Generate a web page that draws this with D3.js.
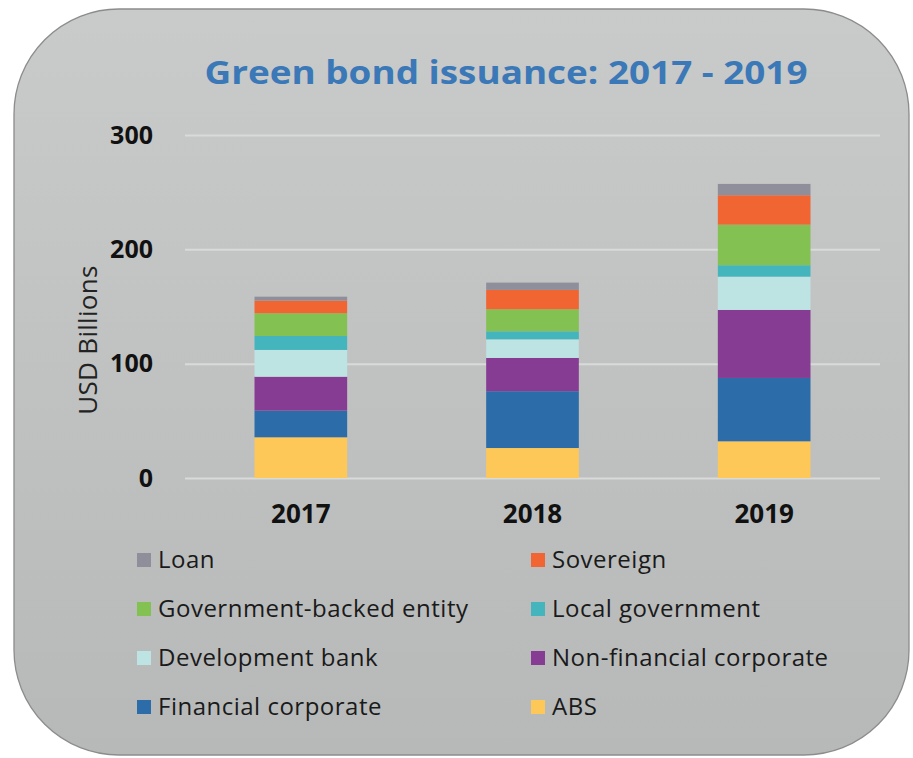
<!DOCTYPE html>
<html>
<head>
<meta charset="utf-8">
<script src="https://cdn.jsdelivr.net/npm/d3@7"></script>
<style>
  body { margin: 0; background: #ffffff; }
  svg { display: block; }
</style>
</head>
<body>
<div id="chart"></div>
<script>
// data (USD billions)
var years = ["2017", "2018", "2019"];
var abs = [35.6, 26.2, 32.1];
var financialCorporate = [23.3, 49.7, 55.4];
var nonFinancialCorporate = [29.7, 29.1, 59.5];
var developmentBank = [23.4, 16.3, 29.1];
var localGovernment = [12.2, 7.0, 10.0];
var governmentBacked = [19.9, 19.3, 35.5];
var sovereign = [11.0, 16.9, 25.7];
var loan = [3.5, 6.4, 9.9];
var yTicks = [0, 100, 200, 300];

var seriesNames = ["ABS", "Financial corporate", "Non-financial corporate", "Development bank",
  "Local government", "Government-backed entity", "Sovereign", "Loan"];
var seriesValues = [abs, financialCorporate, nonFinancialCorporate, developmentBank,
  localGovernment, governmentBacked, sovereign, loan];
var seriesColors = ["#fec858", "#2c6ca8", "#873c94", "#bde3e3",
  "#44b5bd", "#82c152", "#f06531", "#8e8f9a"];
// legend goes top to bottom, two per row
var legendOrder = ["Loan", "Sovereign", "Government-backed entity", "Local government",
  "Development bank", "Non-financial corporate", "Financial corporate", "ABS"];

var width = 913, height = 758;
var margin = { top: 135, right: 33, bottom: 280, left: 185 };

var svg = d3.select("#chart").append("svg")
    .attr("width", width)
    .attr("height", height);

var defs = svg.append("defs");
var grad = defs.append("linearGradient")
    .attr("id", "bg")
    .attr("x1", 0).attr("y1", 0).attr("x2", 0).attr("y2", 1);
grad.append("stop").attr("offset", "0%").attr("stop-color", "#c9caca");
grad.append("stop").attr("offset", "100%").attr("stop-color", "#b7b9b9");

// rounded panel behind everything
svg.append("rect")
    .attr("x", 14).attr("y", 9)
    .attr("width", 895).attr("height", 746)
    .attr("rx", 105).attr("ry", 105)
    .attr("fill", "url(#bg)")
    .attr("stroke", "#8c8c8c")
    .attr("stroke-width", 1.3);

svg.append("text")
    .attr("x", 506)
    .attr("y", 84)
    .attr("text-anchor", "middle")
    .attr("font-family", "'Open Sans', sans-serif")
    .attr("font-weight", "bold")
    .attr("font-size", 32)
    .attr("textLength", 603)
    .attr("lengthAdjust", "spacingAndGlyphs")
    .attr("fill", "#3a78b7")
    .text("Green bond issuance: 2017 - 2019");

var plotW = width - margin.left - margin.right,
    plotH = height - margin.top - margin.bottom;

var g = svg.append("g")
    .attr("transform", "translate(" + margin.left + "," + margin.top + ")");

var x = d3.scaleBand().domain(years).range([0, plotW]).paddingInner(0.6).paddingOuter(0.3);
var y = d3.scaleLinear().domain([0, 300]).range([plotH, 0]);

// table for the stack
var table = years.map(function (yr, i) {
    var row = { year: yr };
    seriesNames.forEach(function (name, s) { row[name] = seriesValues[s][i]; });
    return row;
});
var stacked = d3.stack().keys(seriesNames)(table);

// gridlines
g.append("g")
    .call(d3.axisLeft(y).tickValues(yTicks).tickSize(-plotW).tickFormat(""))
    .call(function (a) {
        a.select(".domain").remove();
        a.selectAll(".tick line").attr("stroke", "#d9dada").attr("stroke-width", 2);
    });

g.selectAll(".series")
    .data(stacked)
    .enter().append("g")
    .attr("class", "series")
    .attr("fill", function (d, i) { return seriesColors[i]; })
    .selectAll("rect")
    .data(function (d) { return d; })
    .enter().append("rect")
    .attr("x", function (d) { return x(d.data.year); })
    .attr("width", x.bandwidth())
    .attr("y", function (d) { return y(d[1]); })
    .attr("height", function (d) { return y(d[0]) - y(d[1]); });

// y tick labels
g.append("g")
    .attr("transform", "translate(-32,0)")
    .call(d3.axisLeft(y).tickValues(yTicks).tickSize(0).tickPadding(0))
    .call(function (a) {
        a.select(".domain").remove();
        a.selectAll("text")
            .attr("font-family", "'Open Sans', sans-serif")
            .attr("font-weight", "bold")
            .attr("font-size", 25)
            .attr("fill", "#111");
    });

// x tick labels
g.append("g")
    .attr("transform", "translate(0," + plotH + ")")
    .call(d3.axisBottom(x).tickSize(0).tickPadding(27))
    .call(function (a) {
        a.select(".domain").remove();
        a.selectAll("text")
            .attr("font-family", "'Open Sans', sans-serif")
            .attr("font-weight", "bold")
            .attr("font-size", 26)
            .attr("fill", "#111");
    });

svg.append("text")
    .attr("transform", "translate(97,340) rotate(-90)")
    .attr("text-anchor", "middle")
    .attr("font-family", "'Open Sans', sans-serif")
    .attr("font-size", 26)
    .attr("letter-spacing", 0.3)
    .attr("fill", "#222")
    .text("USD Billions");

// legend
var legend = svg.append("g").attr("transform", "translate(137,560)");
var item = legend.selectAll(".item")
    .data(legendOrder)
    .enter().append("g")
    .attr("class", "item")
    .attr("transform", function (d, i) {
        return "translate(" + (i % 2) * 394 + "," + Math.floor(i / 2) * 49 + ")";
    });
item.append("rect")
    .attr("x", 0).attr("y", -7)
    .attr("width", 14).attr("height", 14)
    .attr("fill", function (d) { return seriesColors[seriesNames.indexOf(d)]; });
item.append("text")
    .attr("x", 21)
    .attr("y", 8)
    .attr("font-family", "'Open Sans', sans-serif")
    .attr("font-size", 24)
    .attr("letter-spacing", 0.5)
    .attr("fill", "#1a1a1a")
    .text(function (d) { return d; });
</script>
</body>
</html>
